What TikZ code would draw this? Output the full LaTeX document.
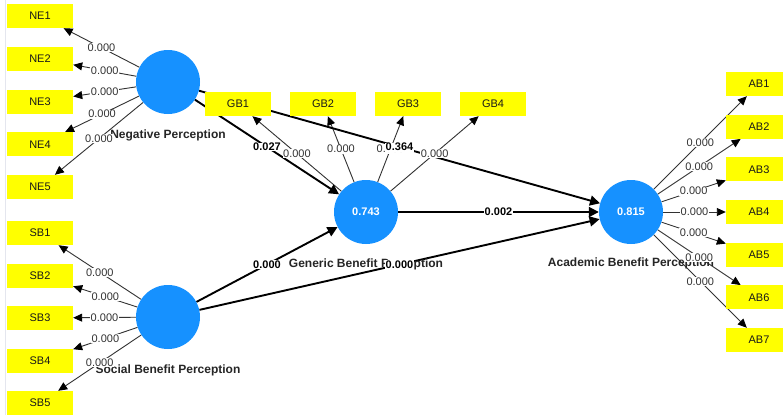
\documentclass[tikz,border=0pt]{standalone}
\usepackage{fontspec}
\setmainfont{Liberation Sans}
\usetikzlibrary{arrows.meta}
\pgfdeclarelayer{edges}
\pgfdeclarelayer{labels}
\pgfsetlayers{edges,main,labels}
\definecolor{lvblue}{RGB}{22,145,255}
\definecolor{indyellow}{RGB}{255,255,0}
\definecolor{outgrey}{RGB}{50,50,50}
\definecolor{frameline}{RGB}{228,230,238}
\tikzset{
  lv/.style={circle, fill=lvblue, draw=none, minimum size=64pt, inner sep=0pt,
    text=white, font=\fontsize{11}{13}\selectfont\bfseries},
  lvname/.style={inner sep=0pt, text=black!85, font=\fontsize{12}{14}\selectfont\bfseries},
  ind/.style={rectangle, fill=indyellow, draw=none, minimum width=66pt, minimum height=24pt,
    inner sep=0pt, text=black!90, font=\fontsize{11}{13}\selectfont},
  outer/.style={draw=outgrey, line width=0.9pt, -{Triangle[length=9pt,width=8pt,color=black]}},
  inner/.style={draw=black, line width=1.9pt, -{Triangle[length=10pt,width=10pt]}},
  olbl/.style={fill=white, inner sep=0.6pt, text=outgrey, font=\fontsize{11}{13}\selectfont},
  ilbl/.style={fill=white, inner sep=0.6pt, text=black, font=\fontsize{11}{13}\selectfont\bfseries},
}
\begin{document}
\begin{tikzpicture}[x=1pt,y=-1pt]
\useasboundingbox (0,0) rectangle (783,415);
\clip (0,0) rectangle (783,415);

% latent variables
\node[lv] (NP) at (168,82) {};
\node[lv] (SBP) at (168,317) {};
\node[lv] (GBP) at (366,212) {0.743};
\node[lv] (ABP) at (631,212) {0.815};

\node[lvname] (NPname) at (168,135) {Negative Perception};
\node[lvname] (SBPname) at (168,370) {Social Benefit Perception};
\node[lvname] (GBPname) at (366,264) {Generic Benefit Perception};
\node[lvname] (ABPname) at (631,263) {Academic Benefit Perception};

% indicators
\node[ind] (NE1) at (40,16) {NE1};
\node[ind] (NE2) at (40,58.75) {NE2};
\node[ind] (NE3) at (40,101.5) {NE3};
\node[ind] (NE4) at (40,144.25) {NE4};
\node[ind] (NE5) at (40,187) {NE5};

\node[ind] (SB1) at (40,233) {SB1};
\node[ind] (SB2) at (40,275.5) {SB2};
\node[ind] (SB3) at (40,318) {SB3};
\node[ind] (SB4) at (40,360.5) {SB4};
\node[ind] (SB5) at (40,403) {SB5};

\node[ind] (GB1) at (238,104) {GB1};
\node[ind] (GB2) at (323,104) {GB2};
\node[ind] (GB3) at (408,104) {GB3};
\node[ind] (GB4) at (493,104) {GB4};

\node[ind] (AB1) at (759,84) {AB1};
\node[ind] (AB2) at (759,126.67) {AB2};
\node[ind] (AB3) at (759,169.33) {AB3};
\node[ind] (AB4) at (759,212) {AB4};
\node[ind] (AB5) at (759,254.67) {AB5};
\node[ind] (AB6) at (759,297.33) {AB6};
\node[ind] (AB7) at (759,340) {AB7};

% background, frame line and connectors
\begin{pgfonlayer}{edges}
\fill[white] (0,0) rectangle (783,415);
\draw[frameline, line width=0.8pt] (5.5,0) -- (5.5,415);
\foreach \i in {1,...,5} {\draw[outer] (NP) -- (NE\i);}
\foreach \i in {1,...,5} {\draw[outer] (SBP) -- (SB\i);}
\foreach \i in {1,...,4} {\draw[outer] (GBP) -- (GB\i);}
\foreach \i in {1,...,7} {\draw[outer] (ABP) -- (AB\i);}
\draw[inner] (NP) -- (GBP);
\draw[inner] (NP) -- (ABP);
\draw[inner] (SBP) -- (GBP);
\draw[inner] (SBP) -- (ABP);
\draw[inner] (GBP) -- (ABP);
\end{pgfonlayer}

% connector labels
\begin{pgfonlayer}{labels}
\foreach \i in {1,...,5} {\path (NP) -- node[olbl] {0.000} (NE\i);}
\foreach \i in {1,...,5} {\path (SBP) -- node[olbl] {0.000} (SB\i);}
\foreach \i in {1,...,4} {\path (GBP) -- node[olbl] {0.000} (GB\i);}
\foreach \i in {1,...,7} {\path (ABP) -- node[olbl] {0.000} (AB\i);}
\path (NP) -- node[ilbl] {0.027} (GBP);
\path (NP) -- node[ilbl] {0.364} (ABP);
\path (SBP) -- node[ilbl] {0.000} (GBP);
\path (SBP) -- node[ilbl] {0.000} (ABP);
\path (GBP) -- node[ilbl] {0.002} (ABP);
\end{pgfonlayer}
\end{tikzpicture}
\end{document}
